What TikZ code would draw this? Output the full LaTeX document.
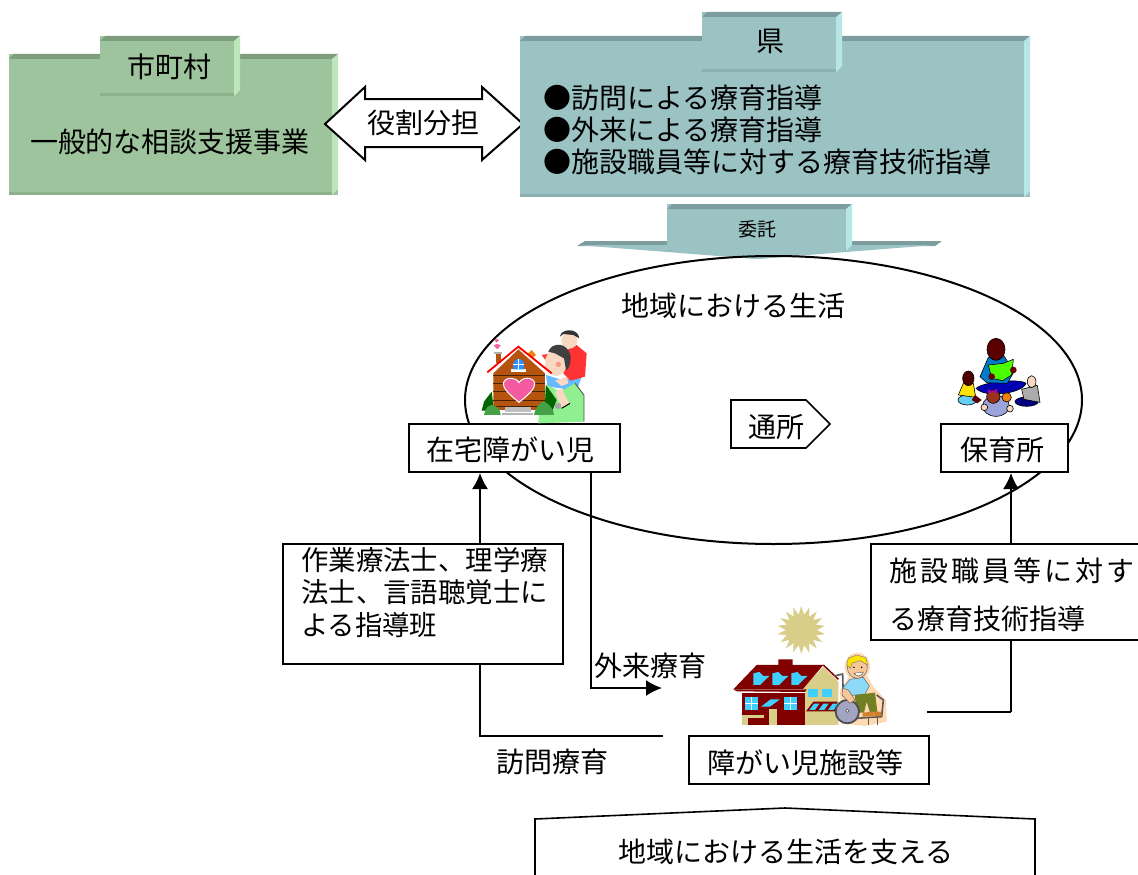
\documentclass[tikz,border=0pt]{standalone}
\usepackage{fontspec}
\setmainfont{Noto Sans CJK JP}
\usetikzlibrary{arrows.meta,shapes.geometric}
\definecolor{gface}{HTML}{9DC49D}
\definecolor{gtop}{HTML}{7D9D7D}
\definecolor{gright}{HTML}{BBE7BB}
\definecolor{gbot}{HTML}{8DB08D}
\definecolor{bface}{HTML}{9CC3C4}
\definecolor{btop}{HTML}{7C9C9D}
\definecolor{bright}{HTML}{B6E6E6}
\definecolor{bbot}{HTML}{8CB0B1}
\definecolor{brick}{HTML}{B5540F}
\definecolor{maroon}{HTML}{800000}
\definecolor{tan}{HTML}{D8CE8A}
\definecolor{skyb}{HTML}{40D0FF}
\definecolor{pinkh}{HTML}{F45BA0}
\definecolor{skin}{HTML}{F8D8C0}
\definecolor{shirtg}{HTML}{90F090}
\newcommand{\bevbox}[5]{%
  \fill[#5face] (#1,#2) rectangle (#3,#4);
  \fill[#5top] (#1,#2+5) -- (#1+5,#2) -- (#3,#2) -- (#3-6,#2+5) -- cycle;
  \fill[#5right] (#3-6,#2+5) -- (#3,#2) -- (#3,#4-6) -- (#3-6,#4) -- cycle;
  \fill[#5bot] (#1,#4-3) -- (#3-6,#4-3) -- (#3-6,#4) -- (#1,#4) -- cycle;
}
\tikzset{
  lab/.style={inner sep=0pt,font=\fontsize{28}{32}\selectfont,text=black},
  smalllab/.style={inner sep=0pt,font=\fontsize{19}{22}\selectfont,text=black},
  bx/.style={draw=black,line width=2pt,fill=white,inner sep=0pt},
  conn/.style={draw=black,line width=1.6pt},
  tip/.style={-{Latex[length=16pt,width=16pt]}},
  art/.style={x=0.3333pt,y=-0.3333pt}
}
\begin{document}
\begin{tikzpicture}[x=1pt,y=-1pt,line join=miter]
\useasboundingbox (0,0) rectangle (1138,875);
\clip (0,0) rectangle (1138,875);
\fill[white] (0,0) rectangle (1138,875);

% green block
\bevbox{9}{54}{338}{195}{g}
\bevbox{100}{36}{240}{96}{g}
\node[lab] (shi) at (169,67) {市町村};
\node[lab] (ippan) at (170,142) {一般的な相談支援事業};

% double arrow
\draw[draw=black,line width=2pt,fill=white] (325,124) -- (365,87) -- (365,99) -- (482,99) -- (482,87) -- (523,124) -- (482,160) -- (482,147) -- (365,147) -- (365,160) -- cycle;
\node[lab] (yaku) at (423,123) {役割分担};

% blue block
\bevbox{520}{36}{1030}{197}{b}
\bevbox{702}{12}{842}{72}{b}
\node[lab] (ken) at (770,41) {県};
\node[lab,anchor=west] (k1) at (543,98) {●訪問による療育指導};
\node[lab,anchor=west] (k2) at (543,130) {●外来による療育指導};
\node[lab,anchor=west] (k3) at (543,162) {●施設職員等に対する療育技術指導};

% banner
\fill[btop] (577,246) -- (585,241) -- (942,241) -- (935,246) -- cycle;
\fill[bface] (577,245) -- (935,245) -- (757,259) -- cycle;
\bevbox{667}{204}{852}{251}{b}
\fill[bface] (667,245) -- (845,245) -- (845,251) -- (757,259) -- (667,250) -- cycle;
\node[smalllab] (itaku) at (757,229) {委託};

% ellipse
\node[draw=black,line width=2pt,ellipse,minimum width=617pt,minimum height=288pt,inner sep=0pt] (ell) at (773.5,400) {};
\node[lab] (chiiki) at (733,306) {地域における生活};

% connectors
\coordinate (xa) at (480,0);
\coordinate (xb) at (591,0);
\coordinate (xc) at (1011,0);
\coordinate (yv) at (0,736);
\coordinate (yg) at (0,688);
\coordinate (yf) at (0,712);
\coordinate (vend) at (663,736);
\coordinate (gend) at (662,688);
\coordinate (fstart) at (927,712);

% boxes
\node[bx,minimum width=211pt,minimum height=48pt] (zaitaku) at (514.5,448) {};
\node[lab] (zaitakut) at (510,450) {在宅障がい児};
\node[bx,minimum width=127pt,minimum height=48pt] (hoiku) at (1004.5,448) {};
\node[lab] (hoikut) at (1002,450) {保育所};
\node[bx,minimum width=280pt,minimum height=120pt] (team) at (423,604) {};
\node[lab,anchor=north west,align=left,font=\fontsize{27.4}{32.5}\selectfont] (teamt) at (301,547) {作業療法士、理学療\\法士、言語聴覚士に\\よる指導班};
\node[bx,minimum width=240pt,minimum height=48pt] (shisetsu) at (809,760) {};
\node[lab] (shisetsut) at (805,763) {障がい児施設等};

\draw[conn] (fstart) -- (fstart -| xc);
\draw[conn,tip] (fstart -| xc) -- (hoiku.south -| xc);
\node[bx,minimum width=290pt,minimum height=96pt] (shokuin) at (1016,592) {};
\node[lab,anchor=west] (sh1) at (889,571) {\addfontfeature{LetterSpace=11}施設職員等に対す};
\node[lab,anchor=west] (sh2) at (889,619) {る療育技術指導};

\draw[conn,tip] (team.north -| xa) -- (zaitaku.south -| xa);
\draw[conn] (team.south -| xa) -- (yv -| xa) -- (vend);
\draw[conn,tip] (zaitaku.south -| xb) -- (yg -| xb) -- (gend);
\node[lab] (houmon) at (552,762) {訪問療育};
\node[lab] (gairai) at (650,666) {外来療育};

% tsusho pentagon
\draw[draw=black,line width=1.6pt,fill=white] (731,400) -- (806,400) -- (830,424) -- (806,448) -- (731,448) -- cycle;
\node[lab] (tsusho) at (776,427) {通所};

% bottom pentagon
\draw[draw=black,line width=1.6pt,fill=white] (535,900) -- (535,819) -- (785,808) -- (1035,819) -- (1035,900);
\node[lab] (sasaeru) at (786,852) {地域における生活を支える};

% --- clip art: home
\begin{scope}[shift={(460,320)},art]
  \fill[brick] (108,100) rectangle (122,130);
  \fill[gray!60] (102,95) rectangle (127,101);
  \fill[pinkh] (112,88) -- (101,76) -- (112,72) -- (122,76) -- cycle;
  \fill[pinkh] (110,68) -- (103,60) -- (110,57) -- (117,60) -- cycle;
  \fill[green!40!black] (65,272) -- (72,245) -- (95,215) -- (102,272) -- cycle;
  % child's leg / man's sleeve
  \fill[blue!45!cyan!60!white] (258,165) -- (300,178) -- (365,170) -- (345,228) -- (305,205) -- (262,200) -- cycle;
  % man shirt
  \fill[shirtg] (235,310) -- (240,225) -- (262,195) -- (300,215) -- (345,190) -- (372,225) -- (372,305) -- cycle;
  \draw[black!70,line width=0.8pt] (345,190) -- (372,225) -- (372,305);
  \fill[green!40!black] (258,195) -- (290,240) -- (278,270) -- (255,250) -- cycle;
  % child
  \fill[red!80!white] (245,105) -- (310,95) -- (350,75) -- (380,100) -- (375,170) -- (332,182) -- (310,160) -- (325,115) -- (260,125) -- cycle;
  \fill[orange!80!brown] (203,102) -- (215,90) -- (228,105) -- (218,115) -- cycle;
  \fill[skin] (328,62) ellipse [x radius=24,y radius=24];
  \fill[black!80] (300,50) .. controls (302,25) and (355,22) .. (358,55) -- (340,45) -- (310,42) -- cycle;
  % man's head
  \fill[skin] (288,128) ellipse [x radius=33,y radius=40];
  \fill[black!75] (265,95) .. controls (275,65) and (325,65) .. (332,110) .. controls (332,135) and (325,150) .. (318,150) -- (312,115) -- (285,100) -- cycle;
  \fill[red!30!skin] (295,133) circle (8);
  % man's arm
  \fill[skin] (285,182) -- (320,170) -- (325,190) -- (305,198) -- cycle;
  \fill[skin] (285,215) -- (305,205) -- (328,250) -- (305,265) -- cycle;
  \draw[black,line width=1pt] (305,265) -- (330,250);
  \fill[gray!70] (294,258) ellipse [x radius=10,y radius=9];
  % house
  \fill[brick] (100,160) -- (175,88) -- (255,160) -- (255,270) -- (100,270) -- cycle;
  \foreach \yy in {165,190,215,240,258}{\draw[black!60!brick,line width=0.8pt] (100,\yy) -- (255,\yy);}
  \draw[red,line width=1.8pt] (82,157) -- (175,80) -- (275,160);
  \fill[white] (154,148) rectangle (198,156);
  \fill[skyb!70!blue] (160,148) -- (160,130) .. controls (165,112) and (187,112) .. (192,130) -- (192,148) -- cycle;
  \draw[white,line width=0.8pt] (176,118) -- (176,148) (160,133) -- (192,133);
  \fill[pinkh,draw=white,line width=1pt] (177,247) .. controls (150,225) and (128,205) .. (130,190) .. controls (135,170) and (168,170) .. (177,188) .. controls (186,170) and (222,170) .. (224,190) .. controls (226,205) and (205,225) .. (177,247) -- cycle;
  \fill[gray!50] (135,262) rectangle (212,275);
  \fill[gray!60] (125,278) rectangle (220,285);
  \fill[green!40!gray!90!black] (72,285) .. controls (75,265) and (85,255) .. (97,255) .. controls (112,258) and (122,270) .. (122,285) -- cycle;
  \fill[green!40!gray!90!black] (222,285) .. controls (226,262) and (240,245) .. (252,245) .. controls (268,250) and (282,270) .. (282,285) -- cycle;
\end{scope}

% --- clip art: reading group
\begin{scope}[shift={(920,320)},art]
  \fill[blue!70!black,draw=black,line width=0.6pt] (168,205) .. controls (190,185) and (300,175) .. (318,190) .. controls (310,218) and (200,238) .. (168,205) -- cycle;
  \fill[blue!40!cyan!80!black,draw=black,line width=0.6pt] (180,170) -- (205,112) -- (250,105) -- (282,155) -- (262,190) -- (200,188) -- cycle;
  \fill[black!30!maroon,draw=black,line width=0.6pt] (228,88) ellipse [x radius=27,y radius=33];
  \fill[green!70!yellow,draw=black,line width=0.6pt] (205,135) -- (250,130) -- (280,118) -- (275,165) -- (248,182) -- (215,175) -- cycle;
  \fill[maroon!80!black] (280,150) circle (10);
  \fill[maroon!80!black] (215,170) circle (10);
  % left child
  \fill[cyan!60!white,draw=black,line width=0.6pt] (142,240) ellipse [x radius=28,y radius=15];
  \fill[yellow!85!orange,draw=black,line width=0.6pt] (115,225) -- (130,190) -- (160,190) -- (167,232) -- cycle;
  \fill[black!40!maroon,draw=black,line width=0.6pt] (145,175) ellipse [x radius=17,y radius=22];
  \fill[maroon!70!black] (165,225) -- (185,240) -- (172,250) -- (155,240) -- cycle;
  % right child
  \fill[blue!50!black,draw=black,line width=0.6pt] (320,245) ellipse [x radius=35,y radius=14];
  \fill[gray!65,draw=black,line width=0.6pt] (305,208) -- (352,196) -- (360,247) -- (312,238) -- cycle;
  \fill[skin,draw=black,line width=0.6pt] (335,185) ellipse [x radius=13,y radius=18];
  % front child
  \fill[cyan!30!blue!40!white,draw=black,line width=0.6pt] (228,258) ellipse [x radius=40,y radius=31];
  \fill[skin,draw=black,line width=0.6pt] (193,262) circle (10);
  \fill[skin,draw=black,line width=0.6pt] (270,266) circle (10);
  \fill[maroon!60!brown,draw=black,line width=0.6pt] (220,230) ellipse [x radius=20,y radius=20];
  \fill[violet!70!magenta] (204,208) -- (218,214) -- (232,206) -- (232,220) -- (218,216) -- (204,220) -- cycle;
  \fill[orange!80!brown,draw=black,line width=0.6pt] (260,232) circle (14);
\end{scope}

% --- clip art: facility
\begin{scope}[shift={(700,590)},art]
  \node[star,star points=18,star point ratio=1.55,fill=tan,minimum size=48pt,inner sep=0pt] (sun) at (304,120) {};
  % tan wing
  \fill[tan] (310,295) -- (370,230) -- (415,275) -- (415,405) -- (315,405) -- cycle;
  % maroon body
  \fill[maroon] (125,300) rectangle (315,405);
  \fill[maroon] (100,298) -- (170,225) -- (235,225) -- (235,208) -- (278,208) -- (278,225) -- (370,225) -- (308,298) -- cycle;
  \draw[maroon,line width=1.5pt] (370,225) -- (415,268);
  \fill[white] (125,298) rectangle (315,310);
  \fill[maroon] (100,298) -- (320,298) -- (315,306) -- (110,304) -- cycle;
  % roof lights
  \foreach \dx in {0,57,114}{\fill[skyb] (160+\dx,250) -- (178+\dx,246) -- (190+\dx,258) -- (208+\dx,258) -- (180+\dx,285) -- (160+\dx,285) -- cycle;}
  % windows
  \foreach \xx in {135,252}{
    \fill[skyb] (\xx,321) rectangle (\xx+38,360);
    \draw[white,line width=0.8pt] (\xx+19,321) -- (\xx+19,360) (\xx,340) -- (\xx+38,340);
  }
  \fill[skyb] (183,350) -- (212,328) -- (240,328) -- (210,350) -- cycle;
  % tan details
  \fill[tan] (125,376) rectangle (192,385);
  \fill[tan] (125,385) rectangle (145,405);
  \fill[tan] (208,358) rectangle (230,405);
  % right windows
  \fill[skyb] (323,298) rectangle (353,322);
  \fill[skyb] (367,298) rectangle (397,322);
  \fill[maroon] (318,364) -- (340,335) -- (412,335) -- (412,364) -- cycle;
  \foreach \dx in {0,28,56}{\fill[skyb] (328+\dx,360) -- (342+\dx,341) -- (358+\dx,341) -- (345+\dx,360) -- cycle;}
  % wheelchair halo
  \fill[orange!30!white] (472,230) ellipse [x radius=38,y radius=42];
  \fill[orange!30!white] (420,300) -- (450,258) -- (500,255) -- (520,290) -- (558,330) -- (560,395) -- (495,408) -- (425,400) -- cycle;
  \draw[gray!70!black,line width=1.6pt] (403,258) -- (428,252) -- (430,320);
  \draw[gray!70!black,line width=1.6pt] (470,385) -- (545,380) -- (550,330) -- (530,315);
  \draw[gray!70!black,line width=1.4pt] (505,385) -- (505,405) (532,382) -- (532,405);
  % shirt
  \fill[cyan!45!white,draw=black!60,line width=0.5pt] (428,295) -- (450,268) -- (490,262) -- (508,288) -- (495,312) -- (440,318) -- cycle;
  % pants
  \fill[olive!75!green!80!black] (465,315) -- (525,308) -- (532,365) -- (510,368) -- (500,335) -- (492,368) -- (468,368) -- cycle;
  \fill[brown!70!orange] (488,368) -- (520,365) -- (520,380) -- (488,380) -- cycle;
  \fill[brown!70!orange] (520,365) -- (542,365) -- (545,378) -- (520,380) -- cycle;
  % wheel
  \draw[gray!60!black,fill=blue!20!gray!60!white,line width=1.8pt] (442,365) circle (35);
  \fill[white,draw=black!70,line width=0.5pt] (442,362) circle (5);
  % arm
  \fill[skin!80!orange,draw=black!60,line width=0.5pt] (428,295) -- (445,300) -- (465,330) -- (450,340) -- (426,315) -- cycle;
  % head
  \fill[skin!80!orange,draw=black!60,line width=0.5pt] (472,232) ellipse [x radius=30,y radius=33];
  \fill[yellow!85!orange,draw=black!50,line width=0.5pt] (440,225) -- (445,205) -- (470,195) -- (498,203) -- (503,225) -- (480,212) -- (455,220) -- (452,235) -- cycle;
  \fill[black] (462,232) circle (2.5);
  \fill[black] (485,232) circle (2.5);
  \fill[white,draw=black!70,line width=0.4pt] (462,250) .. controls (470,262) and (485,260) .. (490,246) -- cycle;
\end{scope}
\end{tikzpicture}
\end{document}
